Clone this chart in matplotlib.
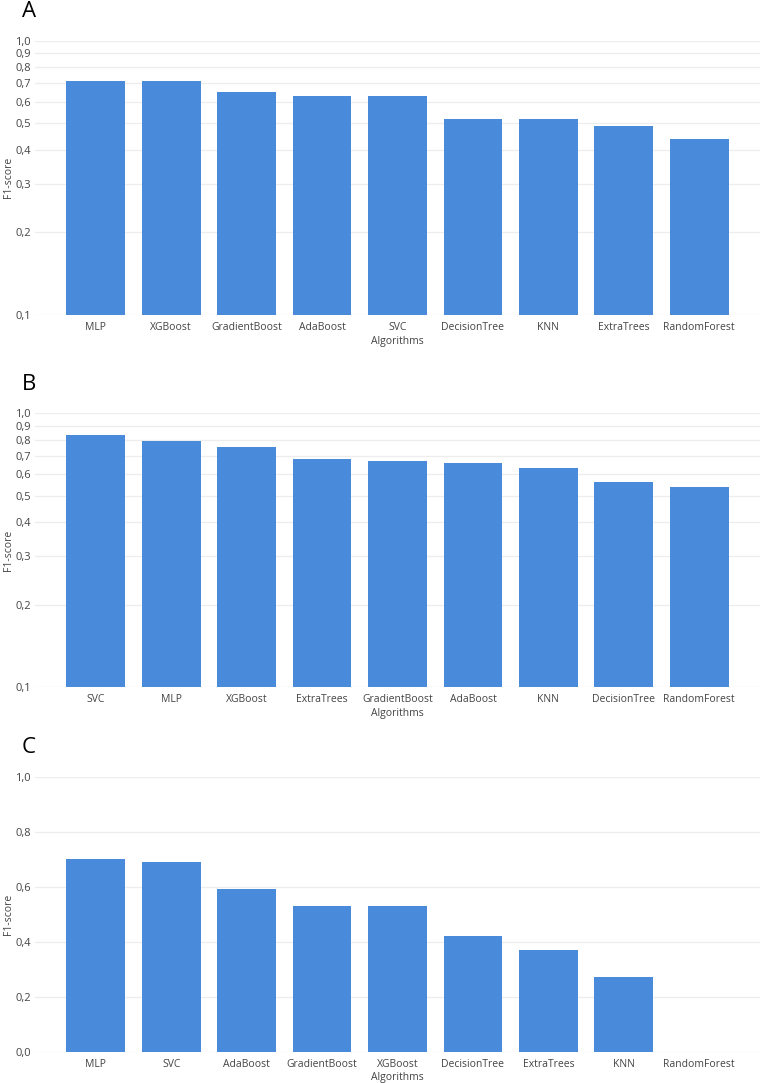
import matplotlib.pyplot as plt
from matplotlib.ticker import FixedLocator, NullLocator

plt.rcParams['font.family'] = ['Open Sans', 'DejaVu Sans']

# Panel A
algos_a = ["MLP", "XGBoost", "GradientBoost", "AdaBoost", "SVC",
           "DecisionTree", "KNN", "ExtraTrees", "RandomForest"]
f1_a = [0.71, 0.71, 0.65, 0.63, 0.63, 0.52, 0.52, 0.49, 0.44]

# Panel B
algos_b = ["SVC", "MLP", "XGBoost", "ExtraTrees", "GradientBoost",
           "AdaBoost", "KNN", "DecisionTree", "RandomForest"]
f1_b = [0.83, 0.79, 0.75, 0.68, 0.67, 0.66, 0.63, 0.56, 0.54]

# Panel C
algos_c = ["MLP", "SVC", "AdaBoost", "GradientBoost", "XGBoost",
           "DecisionTree", "ExtraTrees", "KNN", "RandomForest"]
f1_c = [0.70, 0.69, 0.59, 0.53, 0.53, 0.42, 0.37, 0.27, 0.0]

log_ticks = [0.1, 0.2, 0.3, 0.4, 0.5, 0.6, 0.7, 0.8, 0.9, 1.0]
lin_ticks = [0.0, 0.2, 0.4, 0.6, 0.8, 1.0]

W, H = 760, 1083
bar_color = "#4A8ADB"
grid_color = "#EDEDED"
text_color = "#444444"

fig = plt.figure(figsize=(W / 100, H / 100), dpi=100)


def panel(top, bottom, letter, algos, vals, log):
    ax = fig.add_axes([35 / W, (H - bottom) / H, 725 / W, (bottom - top) / H])
    x = range(len(algos))
    ax.bar(x, vals, width=0.78, color=bar_color, zorder=2)
    if log:
        ax.set_yscale("log")
        ax.set_ylim(0.1, 1.0)
        ticks = log_ticks
    else:
        ax.set_ylim(0, 1.0)
        ticks = lin_ticks
    ax.yaxis.set_major_locator(FixedLocator(ticks))
    ax.yaxis.set_minor_locator(NullLocator())
    ax.set_yticklabels([f"{t:.1f}".replace(".", ",") for t in ticks])
    ax.set_xlim(-0.805, 8.805)
    ax.set_xticks(list(x))
    ax.set_xticklabels(algos)
    ax.grid(axis="y", color=grid_color, linewidth=0.9, zorder=0)
    for s in ax.spines.values():
        s.set_visible(False)
    ax.tick_params(axis="y", length=0, labelsize=8, colors=text_color, pad=3)
    ax.tick_params(axis="x", length=0, labelsize=7.5, colors=text_color, pad=5)
    ax.set_xlabel("Algorithms", fontsize=7.5, color=text_color, labelpad=2)
    # y label sits in the narrow left margin
    fig.text(9 / W, 1 - (top + bottom) / 2 / H, "F1-score", rotation=90,
             fontsize=7.5, color=text_color, ha="center", va="center")
    fig.text(22 / W, 1 - (top - 29) / H, letter, fontsize=16,
             va="center", ha="left", color="black")
    return ax


panel(40.7, 315, "A", algos_a, f1_a, True)
panel(413.3, 687, "B", algos_b, f1_b, True)
panel(776.7, 1051.7, "C", algos_c, f1_c, False)

fig.savefig("out.png", dpi=100)
